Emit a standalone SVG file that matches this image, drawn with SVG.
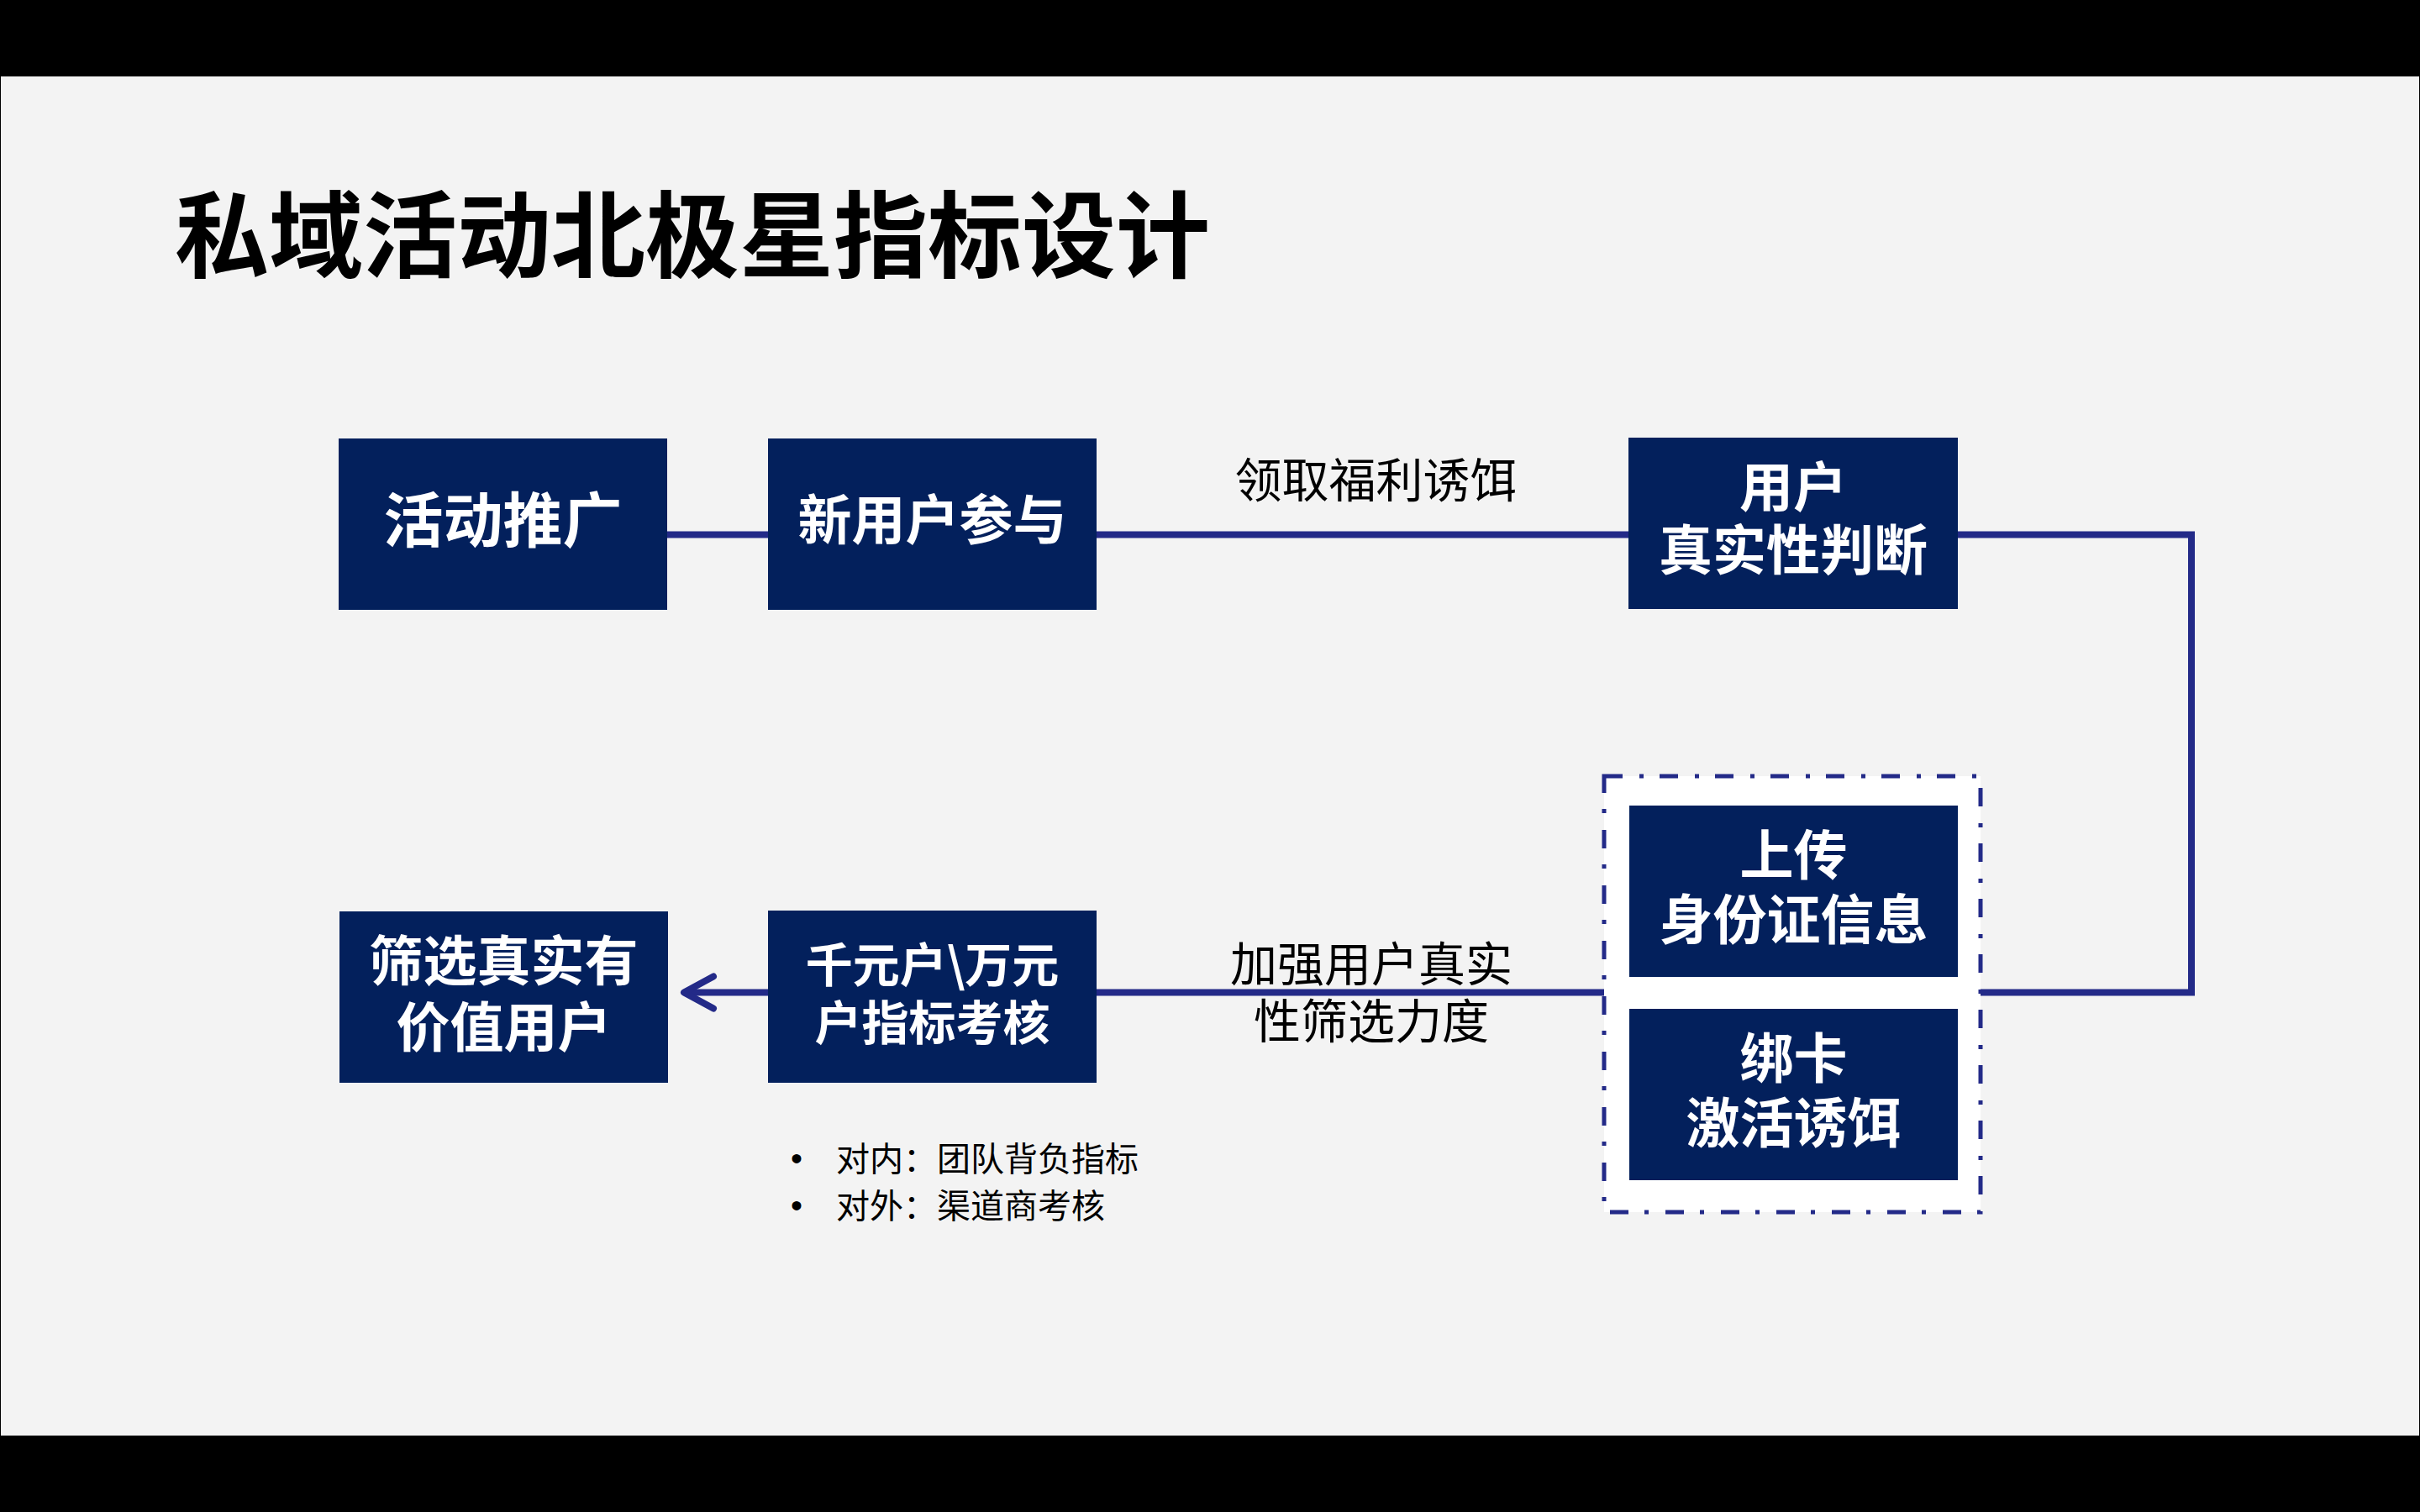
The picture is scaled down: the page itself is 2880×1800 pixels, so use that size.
<svg xmlns="http://www.w3.org/2000/svg" width="2880" height="1800" viewBox="0 0 2880 1800">
  <defs>
    <style>
      .node { fill: #03205C; }
      .nt { fill: #FFFFFF; font-family: "Noto Sans CJK SC", "Noto Sans", sans-serif; font-weight: 700; text-anchor: middle; }
      .lbl { fill: #000000; font-family: "Noto Sans CJK SC", "Noto Sans", sans-serif; font-weight: 400; }
      .title { fill: #000000; font-family: "Noto Sans CJK SC", "Noto Sans", sans-serif; font-weight: 700; font-size: 112px; }
      .conn { fill: none; stroke: #232A88; stroke-width: 8; }
    </style>
    <marker id="chev" markerUnits="userSpaceOnUse" viewBox="0 0 48 48" markerWidth="48" markerHeight="48" refX="42" refY="24" orient="auto">
      <path d="M7,5 L42,24 L7,43" fill="none" stroke="#232A88" stroke-width="8" stroke-linecap="round" stroke-linejoin="round"/>
    </marker>
  </defs>

  <rect x="0" y="0" width="2880" height="1800" fill="#000000"/>
  <rect x="1" y="91" width="2878" height="1618" fill="#F3F3F3"/>

  <text x="208" y="322" class="title">私域活动北极星指标设计</text>

  <g id="connectors">
    <line class="conn" x1="794" y1="636.5" x2="914" y2="636.5"/>
    <line class="conn" x1="1305" y1="636.5" x2="1938" y2="636.5"/>
    <polyline class="conn" points="2330,636.5 2608,636.5 2608,1181.5 2356,1181.5"/>
    <line class="conn" x1="1909" y1="1181.5" x2="1305" y2="1181.5"/>
    <line class="conn" x1="914" y1="1181.5" x2="814" y2="1181.5" marker-end="url(#chev)"/>
    <text class="lbl" x="1637.5" y="592" font-size="56" text-anchor="middle">领取福利诱饵</text>
    <text class="lbl" font-size="56" text-anchor="middle"><tspan x="1632" y="1168">加强用户真实</tspan><tspan x="1632" y="1236">性筛选力度</tspan></text>
  </g>

  <g id="group-verify">
    <rect x="1909" y="924" width="448" height="519" fill="#FFFFFF" stroke="#232A88" stroke-width="5" stroke-dasharray="22 20 5 19"/>
  </g>

  <g id="node-promo">
    <rect class="node" x="403" y="522" width="391" height="204"/>
    <text class="nt" x="598.5" y="645" font-size="71">活动推广</text>
  </g>

  <g id="node-newuser">
    <rect class="node" x="914" y="522" width="391" height="204"/>
    <text class="nt" x="1109.5" y="642" font-size="64">新用户参与</text>
  </g>

  <g id="node-judge">
    <rect class="node" x="1938" y="521" width="392" height="204"/>
    <text class="nt" font-size="64"><tspan x="2134" y="603">用户</tspan><tspan x="2134" y="678">真实性判断</tspan></text>
  </g>

  <g id="node-idcard">
    <rect class="node" x="1939" y="959" width="391" height="204"/>
    <text class="nt" font-size="64"><tspan x="2134.5" y="1041">上传</tspan><tspan x="2134.5" y="1118">身份证信息</tspan></text>
  </g>

  <g id="node-bindcard">
    <rect class="node" x="1939" y="1201" width="391" height="204"/>
    <text class="nt" font-size="64"><tspan x="2134.5" y="1283">绑卡</tspan><tspan x="2134.5" y="1360">激活诱饵</tspan></text>
  </g>

  <g id="node-kpi">
    <rect class="node" x="914" y="1084" width="391" height="205"/>
    <text class="nt" font-size="56"><tspan x="1109.5" y="1169">千元户\万元</tspan><tspan x="1109.5" y="1238">户指标考核</tspan></text>
  </g>

  <g id="node-filter">
    <rect class="node" x="404" y="1085" width="391" height="204"/>
    <text class="nt" font-size="64"><tspan x="599.5" y="1167">筛选真实有</tspan><tspan x="599.5" y="1246">价值用户</tspan></text>
  </g>

  <g id="notes">
    <text font-family="Liberation Sans, sans-serif" font-size="40" fill="#000000"><tspan x="941" y="1393">•</tspan><tspan x="941" y="1449">•</tspan></text>
    <text class="lbl" font-size="40"><tspan x="995" y="1394">对内：团队背负指标</tspan><tspan x="995" y="1450">对外：渠道商考核</tspan></text>
  </g>
</svg>
